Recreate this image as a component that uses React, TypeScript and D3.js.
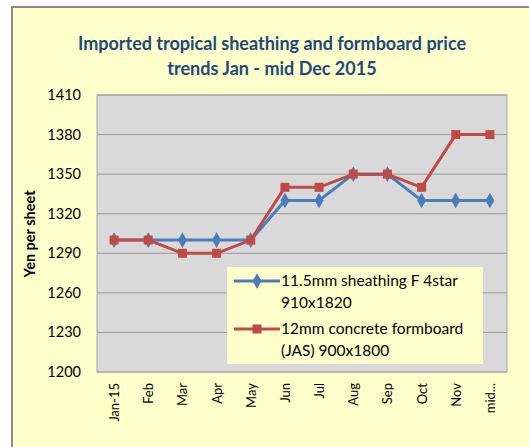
import React from 'react';
import * as d3 from 'd3';

const months = ['Jan-15', 'Feb', 'Mar', 'Apr', 'May', 'Jun', 'Jul', 'Aug', 'Sep', 'Oct', 'Nov', 'mid...'];
const sheathing = [1300, 1300, 1300, 1300, 1300, 1330, 1330, 1350, 1350, 1330, 1330, 1330];
const formboard = [1300, 1300, 1290, 1290, 1300, 1340, 1340, 1350, 1350, 1340, 1380, 1380];
const yTicks = [1200, 1230, 1260, 1290, 1320, 1350, 1380, 1410];
const sheathingLabel = ['11.5mm sheathing F 4star', '910x1820'];
const formboardLabel = ['12mm concrete formboard', '(JAS) 900x1800'];

const BLUE = '#4a7ebb';
const RED = '#be4b48';
const FONT = 'Lato, "Open Sans", sans-serif';

export default function App() {
  const left = 97, right = 507, top = 95, bottom = 372;
  const x = d3.scaleBand<string>().domain(months).range([left, right]);
  const y = d3.scaleLinear().domain([1200, 1410]).range([bottom, top]);
  const cx = (i: number) => (x(months[i]) as number) + x.bandwidth() / 2;
  const line = d3.line<number>().x((_, i) => cx(i)).y(d => y(d));
  const diamond = d3.symbol().type(d3.symbolDiamond).size(70)();

  return (
    <svg width={529} height={447} style={{ position: 'absolute', left: 0, top: 0 }}>
      <rect x={12} y={7} width={530} height={460} fill="#ffffcc" stroke="#8c8c8c" strokeWidth={2} />
      <text x={272} y={50} textAnchor="middle" fontFamily={FONT} fontWeight="bold" fontSize={18} fill="#1f497d">
        Imported tropical sheathing and formboard price
      </text>
      <text x={272} y={75} textAnchor="middle" fontFamily={FONT} fontWeight="bold" fontSize={18} fill="#1f497d">
        trends Jan - mid Dec 2015
      </text>

      <rect x={left} y={top} width={right - left} height={bottom - top} fill="#d9d9d9" />
      {yTicks.map(t => (
        <line key={t} x1={left} x2={right} y1={y(t)} y2={y(t)} stroke="#9a9a9a" strokeWidth={1} />
      ))}
      <rect x={left} y={top} width={right - left} height={bottom - top} fill="none" stroke="#a6a6a6" strokeWidth={1} />

      {yTicks.map(t => (
        <text key={t} x={81} y={y(t) + 5} textAnchor="end" fontFamily={FONT} fontSize={14.5} fill="#000">
          {t}
        </text>
      ))}
      <text transform="translate(35,234) rotate(-90)" textAnchor="middle" fontFamily={FONT} fontWeight="bold" fontSize={14.5} fill="#000">
        Yen per sheet
      </text>

      {months.map((m, i) => (
        <text key={m} transform={`translate(${cx(i) + 5},${383}) rotate(-90)`} textAnchor="end" fontFamily={FONT} fontSize={13} fill="#000">
          {m}
        </text>
      ))}

      <path d={line(sheathing) || ''} fill="none" stroke={BLUE} strokeWidth={3} />
      {sheathing.map((v, i) => (
        <path key={i} d={diamond || ''} transform={`translate(${cx(i)},${y(v)})`} fill={BLUE} />
      ))}
      <path d={line(formboard) || ''} fill="none" stroke={RED} strokeWidth={3} />
      {formboard.map((v, i) => (
        <rect key={i} x={cx(i) - 4.5} y={y(v) - 4.5} width={9} height={9} fill={RED} />
      ))}

      <rect x={227} y={267} width={256} height={97} fill="#ffffcc" />
      <line x1={234} x2={280} y1={281} y2={281} stroke={BLUE} strokeWidth={3} />
      <path d={diamond || ''} transform="translate(257,281)" fill={BLUE} />
      <line x1={234} x2={280} y1={329} y2={329} stroke={RED} strokeWidth={3} />
      <rect x={252.5} y={324.5} width={9} height={9} fill={RED} />
      {sheathingLabel.map((s, i) => (
        <text key={s} x={281} y={286 + i * 22} fontFamily={FONT} fontSize={15.5} fill="#000">{s}</text>
      ))}
      {formboardLabel.map((s, i) => (
        <text key={s} x={281} y={334 + i * 22} fontFamily={FONT} fontSize={15.5} fill="#000">{s}</text>
      ))}
    </svg>
  );
}
